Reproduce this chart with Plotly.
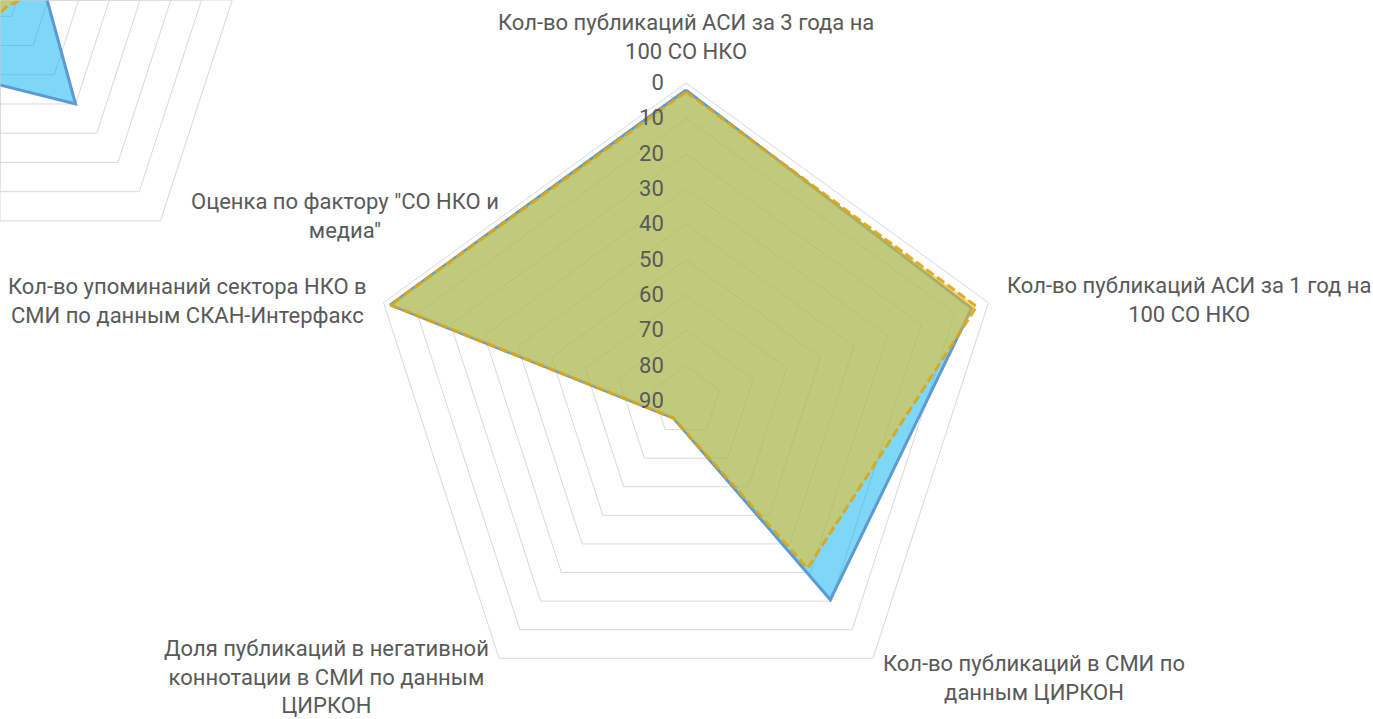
import plotly.graph_objects as go

# ---------------- data ----------------
categories = [
    "Кол-во публикаций АСИ за 3 года на 100 СО НКО",
    "Кол-во публикаций АСИ за 1 год на 100 СО НКО",
    "Кол-во публикаций в СМИ по данным ЦИРКОН",
    "Доля публикаций в негативной коннотации в СМИ по данным ЦИРКОН",
    "Кол-во упоминаний сектора НКО в СМИ по данным СКАН-Интерфакс",
]
category_labels = [
    "Кол-во публикаций АСИ за 3 года на<br>100 СО НКО",
    "Кол-во публикаций АСИ за 1 год на<br>100 СО НКО",
    "Кол-во публикаций в СМИ по<br>данным ЦИРКОН",
    "Доля публикаций в негативной<br>коннотации в СМИ по данным<br>ЦИРКОН",
    "Кол-во упоминаний сектора НКО в<br>СМИ по данным СКАН-Интерфакс",
]
series_blue = [2, 5, 20.5, 84, 2]
series_yellow = [2.5, 3.5, 31.5, 84, 2]
radial_ticks = [0, 10, 20, 30, 40, 50, 60, 70, 80, 90]

# partially visible neighbouring chart (top-left corner)
factor_categories = ["Ф1", "Ф2", "Оценка по фактору \"СО НКО и медиа\"", "Ф4", "Ф5"]
factor_label = "Оценка по фактору \"СО НКО и<br>медиа\""
factor_blue = [45, 63, 40, 51, 45]
factor_yellow = [55, 60, 73, 60, 55]

# ---------------- styling ----------------
W, H = 1373, 719
FONT = "Roboto"
FS = 22
TXT = "#595959"
GRID = "#d9d9d9"
BLUE_FILL = "rgba(0,176,240,0.5)"
BLUE_LINE = "#5b9bd5"
YEL_FILL = "rgba(255,192,0,0.5)"
YEL_LINE = "rgba(222,165,20,0.9)"


def px(x):
    return x / W


def py(y):
    return 1 - y / H


def closed(v):
    return list(v) + [v[0]]


fig = go.Figure()

cats_closed = closed(categories)
fig.add_trace(go.Scatterpolar(
    r=closed(series_blue), theta=cats_closed, subplot="polar",
    mode="lines", fill="toself", fillcolor=BLUE_FILL,
    line=dict(color=BLUE_LINE, width=3), showlegend=False, hoverinfo="skip"))
fig.add_trace(go.Scatterpolar(
    r=closed(series_yellow), theta=cats_closed, subplot="polar",
    mode="lines", fill="toself", fillcolor=YEL_FILL,
    line=dict(color=YEL_LINE, width=3, dash="9px,4px"), showlegend=False, hoverinfo="skip"))

fcats_closed = closed(factor_categories)
fig.add_trace(go.Scatterpolar(
    r=closed(factor_blue), theta=fcats_closed, subplot="polar2",
    mode="lines", fill="toself", fillcolor=BLUE_FILL,
    line=dict(color=BLUE_LINE, width=3), showlegend=False, hoverinfo="skip"))
fig.add_trace(go.Scatterpolar(
    r=closed(factor_yellow), theta=fcats_closed, subplot="polar2",
    mode="lines", fill="toself", fillcolor=YEL_FILL,
    line=dict(color=YEL_LINE, width=3, dash="9px,4px"), showlegend=False, hoverinfo="skip"))

# main radar: centre (686, 401), radius 318 px
main_R, main_cx, main_cy = 318, 686, 401
fig.update_layout(
    polar=dict(
        domain=dict(x=[px(main_cx - main_R), px(main_cx + main_R)],
                    y=[max(0, py(main_cy + main_R)), py(main_cy - main_R)]),
        gridshape="linear",
        bgcolor="rgba(0,0,0,0)",
        radialaxis=dict(
            range=[90, 0], tickvals=radial_ticks, angle=90, side="counterclockwise",
            showline=False, gridcolor=GRID, gridwidth=1,
            ticks="outside", ticklen=14, tickcolor="rgba(0,0,0,0)", tickangle=90,
            tickfont=dict(family=FONT, size=FS, color=TXT)),
        angularaxis=dict(
            categoryorder="array", categoryarray=categories,
            rotation=90, direction="clockwise",
            showgrid=False, showticklabels=False, ticks="",
            showline=True, linecolor=GRID, linewidth=1),
    ),
    polar2=dict(
        domain=dict(x=[0, px(273)], y=[py(273), 1]),
        sector=[-90, 0],
        gridshape="linear",
        bgcolor="rgba(0,0,0,0)",
        radialaxis=dict(
            range=[75.6, 0], dtick=10, showline=False, showticklabels=False,
            ticks="", gridcolor=GRID, gridwidth=1),
        angularaxis=dict(
            categoryorder="array", categoryarray=factor_categories,
            rotation=90, direction="clockwise",
            showgrid=False, showticklabels=False, ticks="",
            showline=True, linecolor=GRID, linewidth=1),
    ),
)

# category labels
label_pos = [
    (686, 37),
    (1189, 300),
    (1034, 678),
    (326, 677),
    (187, 301),
]
annotations = []
for text, (x, y) in zip(category_labels, label_pos):
    annotations.append(dict(
        text=text, x=px(x), y=py(y), xref="paper", yref="paper",
        xanchor="center", yanchor="middle", align="center", showarrow=False,
        font=dict(family=FONT, size=FS, color=TXT)))
annotations.append(dict(
    text=factor_label, x=px(345), y=py(216), xref="paper", yref="paper",
    xanchor="center", yanchor="middle", align="center", showarrow=False,
    font=dict(family=FONT, size=FS, color=TXT)))

fig.update_layout(
    width=W, height=H, autosize=False,
    margin=dict(l=0, r=0, t=0, b=0),
    paper_bgcolor="white", plot_bgcolor="white",
    template="none",
    annotations=annotations,
    showlegend=False,
)

fig.write_html("out.html", config={"displayModeBar": False},
               post_script="document.body.style.margin='0px';")
